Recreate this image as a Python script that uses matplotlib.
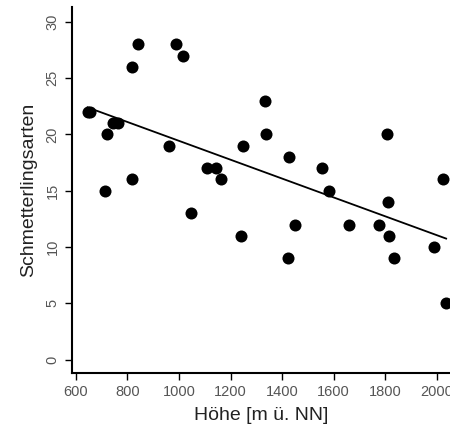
import numpy as np
import matplotlib.pyplot as plt

plt.rcParams['font.family'] = ['Liberation Sans', 'DejaVu Sans']

# elevation (m a.s.l.) and butterfly species counts
hoehe = [645, 655, 842, 819, 988, 1017, 745, 764, 719, 961, 714, 816,
         1107, 1144, 1162, 1047, 1334, 1337, 1247, 1428, 1557, 1584,
         1808, 2026, 1813, 1241, 1450, 1660, 1778, 1817, 1425, 1835,
         1991, 2037]
arten = [22, 22, 28, 26, 28, 27, 21, 21, 20, 19, 15, 16,
         17, 17, 16, 13, 23, 20, 19, 18, 17, 15,
         20, 16, 14, 11, 12, 12, 12, 11, 9, 9,
         10, 5]

x_ticks = [600, 800, 1000, 1200, 1400, 1600, 1800, 2000]
y_ticks = [0, 5, 10, 15, 20, 25, 30]

fig = plt.figure(figsize=(4.5, 4.24), dpi=100)
ax = fig.add_axes([0.159, 0.12, 0.841, 0.863])

ax.scatter(hoehe, arten, s=75, color='black', zorder=3, linewidths=0)

# least squares line
b, a = np.polyfit(hoehe, arten, 1)
xs = np.array([min(hoehe), max(hoehe)])
ax.plot(xs, a + b * xs, color='black', linewidth=1.3)

ax.set_xlim(583, 2052)
ax.set_ylim(-1.2, 31.3)
ax.set_xticks(x_ticks)
ax.set_yticks(y_ticks)
ax.set_yticklabels([str(v) for v in y_ticks], rotation=90, va='center')

for s in ['top', 'right']:
    ax.spines[s].set_visible(False)
for s in ['left', 'bottom']:
    ax.spines[s].set_linewidth(1.5)

ax.tick_params(labelsize=10.5, length=5, width=1, colors='black', labelcolor='#555555')

ax.set_xlabel('Höhe [m ü. NN]', fontsize=14, color='#222222', labelpad=6)
ax.set_ylabel('Schmetterlingsarten', fontsize=14, color='#222222', labelpad=6)

fig.savefig('out.png', dpi=100)
